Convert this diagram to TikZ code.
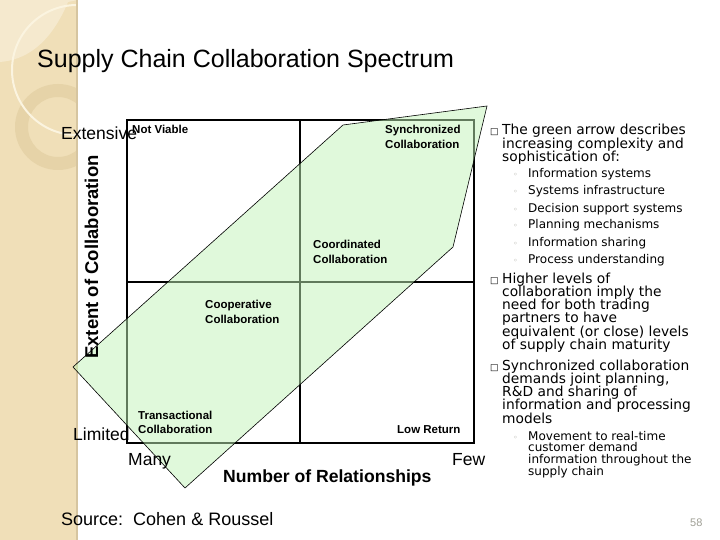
\documentclass[tikz,border=0pt]{standalone}
\usepackage{fontspec}
\setmainfont{Liberation Sans}
\newfontfamily\tah{DejaVu Sans}
\definecolor{beige}{RGB}{240,223,184}
\definecolor{beigelight}{RGB}{245,233,206}
\definecolor{ringcol}{RGB}{230,211,168}
\definecolor{creamline}{RGB}{251,244,224}
\definecolor{stripedge}{RGB}{214,197,160}
\definecolor{arrowgreen}{RGB}{195,245,185}
\definecolor{pagegrey}{RGB}{160,160,150}
\begin{document}
\begin{tikzpicture}[x=1pt,y=-1pt,
  gridline/.style={line width=2pt,black},
  lab/.style={font=\fontsize{11.5}{13}\selectfont\bfseries, anchor=base west, inner sep=0},
  axis/.style={font=\fontsize{17.5}{20}\selectfont, anchor=base west, inner sep=0},
  mainb/.style={font=\tah\fontsize{13.8}{14}\selectfont, anchor=base west, inner sep=0},
  subb/.style={font=\tah\fontsize{12}{13}\selectfont, anchor=base west, inner sep=0},
  boxb/.style={font=\tah\fontsize{9}{10}\selectfont, anchor=base west, inner sep=0},
  dotb/.style={font=\tah\fontsize{8}{10}\selectfont, text=pagegrey, anchor=base west, inner sep=0},
  ]
\useasboundingbox (0,0) rectangle (720,540);
\fill[white] (0,0) rectangle (720,540);

% decorative strip
\fill[beige] (0,0) rectangle (78,540);
\begin{scope}
  \clip (0,0) rectangle (77,540);
  \fill[beigelight] (0,0) -- (0,62) .. controls (25,60) and (50,45) .. (68,2) -- (78,0) -- cycle;
  \fill[ringcol, even odd rule] (58,127) circle[radius=43pt] (58,127) circle[radius=30pt];
  \draw[creamline, line width=2pt] (77,70) circle[radius=65pt];
\end{scope}
\draw[stripedge, line width=2pt] (77,0) -- (77,540);

% grid
\draw[gridline] (127,120) rectangle (474,443);
\draw[gridline] (300,120) -- (300,443);
\draw[gridline] (127,282) -- (474,282);

% green arrow
\filldraw[fill=arrowgreen, fill opacity=0.5, draw=black, line width=0.6pt]
  (73,367) -- (343,125) -- (487,106) -- (453,247) -- (185,488) -- cycle;

% title
\node[anchor=base west, inner sep=0, font=\fontsize{25}{29}\selectfont] (title) at (37,68) {Supply Chain Collaboration Spectrum};

% quadrant labels
\node[lab] (nv) at (132,134) {Not Viable};
\node[lab] (sy1) at (385,134) {Synchronized};
\node[lab] (sy2) at (385,149) {Collaboration};
\node[lab] (co1) at (313,248) {Coordinated};
\node[lab] (co2) at (313,263) {Collaboration};
\node[lab] (cp1) at (205,308) {Cooperative};
\node[lab] (cp2) at (205,323) {Collaboration};
\node[lab] (tr1) at (138,419) {Transactional};
\node[lab] (tr2) at (138,433) {Collaboration};
\node[lab] (lr) at (397,433) {Low Return};

% axes
\node[axis] (ext) at (61,140) {Extensive};
\node[axis] (lim) at (73,440) {Limited};
\node[axis] (many) at (128,465) {Many};
\node[axis] (few) at (452,465) {Few};
\node[axis, font=\fontsize{17.6}{20}\selectfont\bfseries] (nor) at (223,482) {Number of Relationships};
\node[inner sep=0, anchor=base, rotate=90, font=\fontsize{18.5}{21}\selectfont\bfseries] (eoc) at (98,257) {Extent of Collaboration};

% source and page number
\node[axis, font=\fontsize{18}{20}\selectfont] (src) at (61,525) {Source:\ \ Cohen \& Roussel};
\node[anchor=base west, inner sep=0, font=\fontsize{11}{12}\selectfont, text=pagegrey] (pg) at (690,526) {58};

% right text
\node[boxb] (bx1) at (490,135) {□};
\foreach \t [count=\i] in {The green arrow describes, increasing complexity and, sophistication of:}
  \node[mainb] (pa-\i) at (502,{135+13.3*(\i-1)}) {\t};
\foreach \t [count=\i] in {Information systems, Systems infrastructure, Decision support systems, Planning mechanisms, Information sharing, Process understanding}{
  \node[dotb] (da-\i) at (513,{178+17*(\i-1)}) {◦};
  \node[subb] (sa-\i) at (528,{178+17*(\i-1)}) {\t};
}
\node[boxb] (bx2) at (490,283) {□};
\foreach \t [count=\i] in {Higher levels of, collaboration imply the, need for both trading, partners to have, equivalent (or close) levels, of supply chain maturity}
  \node[mainb] (pb-\i) at (502,{283+13.3*(\i-1)}) {\t};
\node[boxb] (bx3) at (490,370) {□};
\foreach \t [count=\i] in {Synchronized collaboration, {demands joint planning,}, R\&D and sharing of, information and processing, models}
  \node[mainb] (pc-\i) at (502,{370+13.3*(\i-1)}) {\t};
\node[dotb] (db-1) at (513,440) {◦};
\foreach \t [count=\i] in {Movement to real-time, customer demand, information throughout the, supply chain}
  \node[subb] (sb-\i) at (528,{440+11.7*(\i-1)}) {\t};
\end{tikzpicture}
\end{document}
